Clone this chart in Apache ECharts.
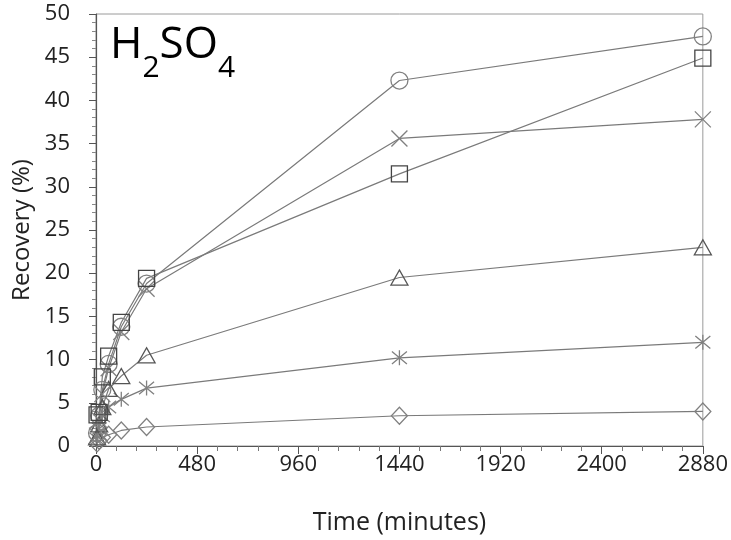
<!DOCTYPE html>
<html>
<head>
<meta charset="utf-8">
<script src="https://cdn.jsdelivr.net/npm/echarts@6/dist/echarts.min.js"></script>
<style>html,body{margin:0;padding:0;background:#fff}#c{width:731px;height:540px}</style>
</head>
<body>
<div id="c"></div>
<script>
var times = [5, 15, 30, 60, 120, 240, 1440, 2880];
var circleVals   = [1.5, 3.5, 6.5, 9.5, 13.8, 18.8, 42.3, 47.4];
var squareVals   = [3.6, 3.9, 8.0, 10.4, 14.3, 19.4, 31.5, 44.9];
var crossVals    = [1.2, 3.0, 6.0, 9.0, 13.2, 18.2, 35.6, 37.8];
var triangleVals = [1.0, 2.5, 4.5, 6.6, 8.1, 10.5, 19.5, 23.0];
var asteriskVals = [0.8, 2.0, 3.5, 4.5, 5.4, 6.7, 10.2, 12.0];
var diamondVals  = [0.3, 0.6, 1.0, 1.3, 1.8, 2.2, 3.5, 4.0];
var xTicks = [0, 480, 960, 1440, 1920, 2400, 2880];
var yTicks = [0, 5, 10, 15, 20, 25, 30, 35, 40, 45, 50];

function pairs(v){ return times.map(function(t,i){ return [t, v[i]]; }); }

var font = '"Open Sans", "Liberation Sans", sans-serif';
var lineCol = '#7a7a7a';
function mk(name, vals, symbol, size, col){
  return {
    name: name, type: 'line', data: pairs(vals),
    symbol: symbol, symbolSize: size, showSymbol: true,
    lineStyle: { color: lineCol, width: 1.2 },
    itemStyle: { color: 'rgba(255,255,255,0)', borderColor: col || '#777', borderWidth: 1.3 },
    z: 3
  };
}
var chart = echarts.init(document.getElementById('c'), null, {renderer: 'canvas'});
chart.setOption({
  animation: false,
  backgroundColor: '#fff',
  title: {
    text: '{b|H}{s|2}{b|SO}{s|4}',
    left: 105, top: 18,
    textStyle: {
      rich: {
        b: { fontSize: 44, fontFamily: font, color: '#000', fontWeight: 'normal' },
        s: { fontSize: 30, fontFamily: font, color: '#000', fontWeight: 'normal', verticalAlign: 'bottom', padding: [0,0,-16,0] }
      }
    }
  },
  grid: { left: 96, right: 26, top: 14, bottom: 92, show: true, borderColor: '#9a9a9a', borderWidth: 1 },
  xAxis: {
    type: 'value', min: 0, max: 2880, interval: 480,
    name: 'Time (minutes)', nameLocation: 'middle', nameGap: 64,
    nameTextStyle: { fontSize: 25, fontFamily: font, color: '#222' },
    axisLine: { show: true, lineStyle: { color: '#555', width: 1.2 } },
    axisTick: { show: true, length: 8, lineStyle: { color: '#555' } },
    minorTick: { show: true, splitNumber: 5, length: 5, lineStyle: { color: '#777' } },
    splitLine: { show: false },
    axisLabel: { fontSize: 22, fontFamily: font, color: '#222', margin: 8,
      formatter: function(v){ return xTicks.indexOf(v) >= 0 ? String(v) : ''; } }
  },
  yAxis: {
    type: 'value', min: 0, max: 50, interval: 5,
    name: 'Recovery (%)', nameLocation: 'middle', nameGap: 62,
    nameTextStyle: { fontSize: 24, fontFamily: font, color: '#222' },
    axisLine: { show: true, lineStyle: { color: '#555', width: 1.2 } },
    axisTick: { show: true, length: 7, lineStyle: { color: '#555' } },
    minorTick: { show: true, splitNumber: 5, length: 4, lineStyle: { color: '#888' } },
    splitLine: { show: false },
    axisLabel: { fontSize: 22, fontFamily: font, color: '#222', margin: 26,
      formatter: function(v){ return yTicks.indexOf(v) >= 0 ? String(v) : ''; } }
  },
  series: [
    mk('diamond', diamondVals, 'diamond', [16, 17], '#808080'),
    mk('asterisk', asteriskVals, 'path://M0,0L10,10M10,0L0,10M5,-1L5,11', 15, '#808080'),
    mk('triangle', triangleVals, 'triangle', [17, 15], '#555'),
    mk('cross', crossVals, 'path://M0,0L10,10M10,0L0,10', 16, '#808080'),
    mk('circle', circleVals, 'circle', 17, '#808080'),
    mk('square', squareVals, 'rect', 16, '#444')
  ]
});
</script>
</body>
</html>
